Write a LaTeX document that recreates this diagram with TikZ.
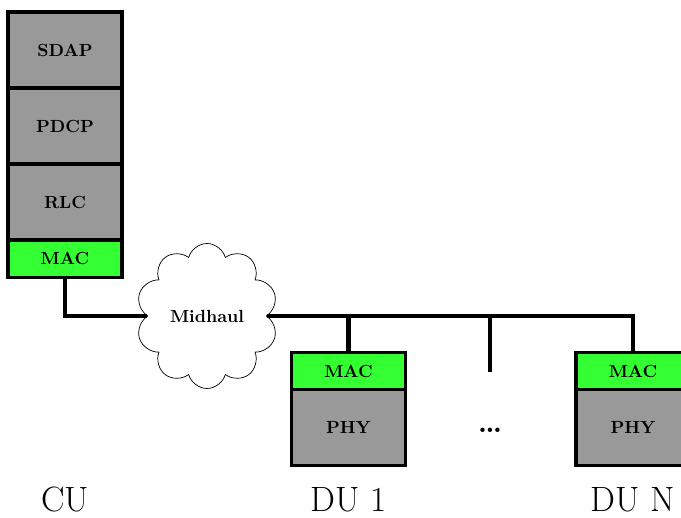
\documentclass[tikz,border=0pt]{standalone}
\usepackage{tikz}
\usetikzlibrary{positioning,shapes.symbols}
\tikzset{
    % Protocol layer box (grey)
    layer/.style={
        rectangle, draw=black, fill=gray!80,
        minimum width=2.28cm, minimum height=1.52cm, inner sep=0pt,
        outer sep=0pt, font=\normalsize\bfseries, line width=1.9pt
    },
    % Thin MAC layer box (green)
    maclayer/.style={layer, fill=green!80, minimum height=0.75cm},
    % Midhaul cloud
    midcloud/.style={
        cloud, cloud puffs=10, aspect=1, draw=black, fill=white,
        minimum width=2.84cm, minimum height=2.9cm, inner sep=0pt,
        font=\normalsize\bfseries, thin
    },
    % Thick midhaul wire
    wire/.style={line width=2.8pt},
    unitlabel/.style={font=\fontsize{20}{24}\selectfont, inner sep=0pt, anchor=base}
}
\begin{document}
\begin{tikzpicture}
  \useasboundingbox (0,0) rectangle (13.62,-10.36);
  % CU stack
  \node[layer] (cusdap) at (1.30,-1.00) {SDAP};
  \node[layer,below=0pt of cusdap] (cupdcp) {PDCP};
  \node[layer,below=0pt of cupdcp] (curlc) {RLC};
  \node[maclayer,below=0pt of curlc] (cumac) {MAC};
  % cloud
  \node[midcloud] (mid) at (4.14,-6.32) {Midhaul};
  % DU 1
  \node[maclayer] (duamac) at (6.97,-7.42) {MAC};
  \node[layer,below=0pt of duamac] (duaphy) {PHY};
  % DU N
  \node[maclayer] (dunmac) at (12.66,-7.42) {MAC};
  \node[layer,below=0pt of dunmac] (dunphy) {PHY};
  \node[font=\LARGE\bfseries,anchor=base] (dots) at (9.80,-8.64) {\dots};
  \coordinate (stub) at (9.80,-7.44);
  % wires
  \draw[wire] (cumac.south) |- (mid.west);
  \draw[wire] (mid.east) -- (mid.east -| dunmac.north) -- (dunmac.north);
  \draw[wire] (duamac.north) -- (duamac.north |- mid.east);
  \draw[wire] (stub) -- (stub |- mid.east);
  % labels
  \node[unitlabel] (cu) at (1.30,-10.22) {CU};
  \node[unitlabel] (dua) at (6.97,-10.22) {DU 1};
  \node[unitlabel] (dun) at (12.66,-10.22) {DU N};
\end{tikzpicture}
\end{document}
